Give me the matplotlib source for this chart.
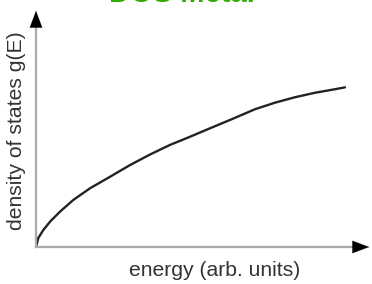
import matplotlib
matplotlib.use("Agg")
import matplotlib.pyplot as plt

# values (arbitrary units)
energy = [0, 0.074, 0.236, 0.453, 0.777, 1.207, 1.748, 2.395, 3.042, 3.689, 4.337,
          4.984, 5.631, 6.278, 7.087, 7.735, 8.382, 9.029, 9.676, 10.0]
dos = [0, 0.56, 1.06, 1.58, 2.21, 2.94, 3.67, 4.39, 5.12, 5.78, 6.38,
       6.89, 7.42, 7.94, 8.61, 9.02, 9.36, 9.64, 9.86, 9.98]

title = "DOS Metal"
xlabel = "energy (arb. units)"
ylabel = "density of states g(E)"

W, H = 372, 284
fig = plt.figure(figsize=(W / 100, H / 100), dpi=100)
plt.rcParams['font.family'] = ['Liberation Sans', 'DejaVu Sans']

# axes origin at pixel (36, 247)
ax = fig.add_axes([36 / W, (H - 247) / H, (W - 36) / W, (247 - 8) / H])
ax.set_xlim(0, (W - 36) / 30.9)
ax.set_ylim(0, (247 - 8) / 16.0)
ax.axis('off')

ax.plot(energy, dos, color='#222222', lw=1.7, solid_capstyle='round', solid_joinstyle='round')

# axis lines (gray) and arrow heads (black)
xr = (358 - 36) / (W - 36)
yt = (247 - 22) / (247 - 8)
ax.plot([0, xr], [0, 0], color='#aaaaaa', lw=1.6, transform=ax.transAxes, clip_on=False)
ax.plot([0, 0], [0, yt], color='#aaaaaa', lw=1.6, transform=ax.transAxes, clip_on=False)
ax.annotate('', xy=(1.0, 0), xytext=(xr - 0.01, 0), xycoords='axes fraction',
            arrowprops=dict(arrowstyle='-|>,head_length=1.2,head_width=0.45', color='black', lw=0.1))
ax.annotate('', xy=(0, 1.0), xytext=(0, yt - 0.01), xycoords='axes fraction',
            arrowprops=dict(arrowstyle='-|>,head_length=1.2,head_width=0.45', color='black', lw=0.1))

fig.text(182 / W, (H - 2.5) / H, title, color='#33aa00', fontsize=21, fontweight='bold',
         ha='center', va='baseline')
fig.text(215 / W, (H - 271) / H, xlabel, color='#333333', fontsize=15.2, ha='center', va='center')
fig.text(17 / W, (H - 131) / H, ylabel, color='#333333', fontsize=15.2, ha='center', va='center',
         rotation=90)

fig.savefig('out.png', dpi=100)
